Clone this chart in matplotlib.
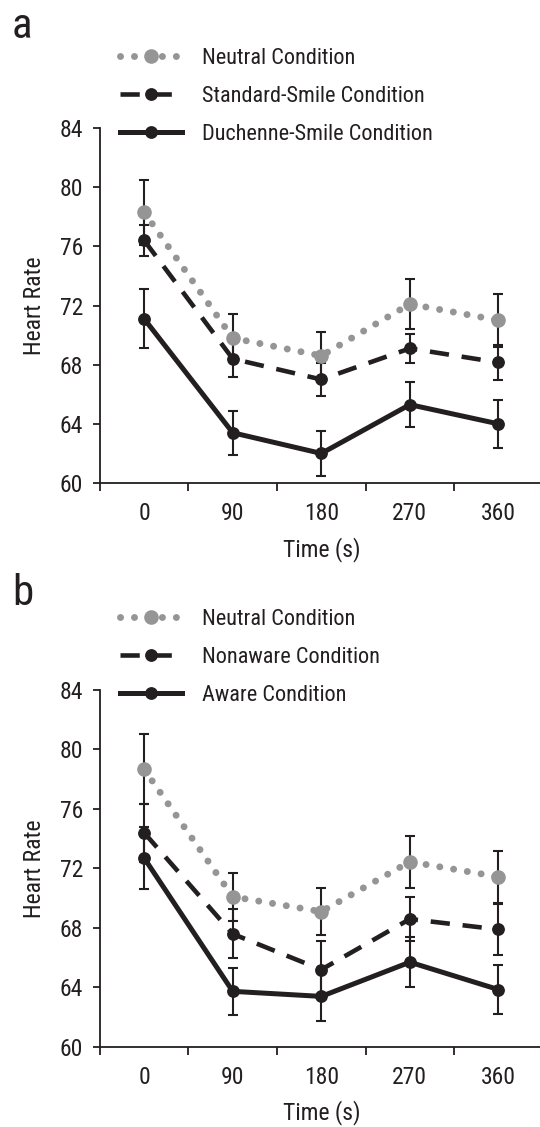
import numpy as np
import matplotlib
matplotlib.use("Agg")
from matplotlib import pyplot as plt
from matplotlib.lines import Line2D

plt.rcParams['font.family'] = ['Roboto Condensed', 'DejaVu Sans']

times = ['0', '90', '180', '270', '360']

# panel a
a_labels = ["Neutral Condition", "Standard-Smile Condition", "Duchenne-Smile Condition"]
a_neutral = [78.3, 69.8, 68.6, 72.1, 71.0]
a_neutral_se = [2.2, 1.6, 1.6, 1.7, 1.8]
a_standard = [76.4, 68.4, 67.0, 69.1, 68.15]
a_standard_se = [1.05, 1.2, 1.1, 1.0, 1.2]
a_duchenne = [71.1, 63.4, 62.0, 65.3, 64.0]
a_duchenne_se = [2.0, 1.5, 1.5, 1.5, 1.6]

# panel b
b_labels = ["Neutral Condition", "Nonaware Condition", "Aware Condition"]
b_neutral = [78.66, 70.1, 69.1, 72.45, 71.44]
b_neutral_se = [2.35, 1.6, 1.6, 1.75, 1.73]
b_nonaware = [74.4, 67.6, 65.2, 68.6, 67.9]
b_nonaware_se = [1.95, 1.65, 1.9, 1.5, 1.7]
b_aware = [72.7, 63.74, 63.4, 65.7, 63.86]
b_aware_se = [2.1, 1.6, 1.65, 1.7, 1.65]

ink = '#231f20'
gray = '#959595'

styles = [
    dict(color=gray, linestyle=(0, (0.01, 2.0)), lw=5.0, dash_capstyle='round',
         marker='o', ms=9.5, mfc=gray, mec=gray),
    dict(color=ink, linestyle=(0, (4.2, 2.8)), lw=3.3, marker='o', ms=8.2, mfc=ink, mec=ink),
    dict(color=ink, linestyle='-', lw=3.6, marker='o', ms=8.2, mfc=ink, mec=ink),
]

fig = plt.figure(figsize=(5.4, 11.27), dpi=100)

def panel(rect, series, errs, labels, letter, letter_y, leg_top):
    ax = fig.add_axes(rect)
    x = np.arange(len(times))
    order = [2, 1, 0]
    for i in order:
        ax.errorbar(x, series[i], yerr=errs[i], fmt='none', ecolor=ink, elinewidth=1.5,
                    capsize=3.5, capthick=1.5, zorder=2)
    for i in order:
        ax.plot(x, series[i], zorder=3 + (2 - i), **styles[i])

    ax.set_xlim(-0.5, 4.5)
    ax.set_ylim(60, 84)
    ax.set_yticks(np.arange(60, 85, 4))
    ax.set_xticks(x)
    ax.set_xticklabels(times)
    ax.set_xticks(np.arange(-0.5, 4.6, 1), minor=True)
    ax.tick_params(axis='x', which='major', length=0, pad=14, labelsize=17, colors=ink)
    ax.tick_params(axis='x', which='minor', length=6, width=1.3, color=ink, direction='out')
    ax.tick_params(axis='y', length=5, width=1.3, color=ink, labelsize=17, labelcolor=ink, pad=7)
    for s in ['top', 'right']:
        ax.spines[s].set_visible(False)
    for s in ['left', 'bottom']:
        ax.spines[s].set_linewidth(1.3)
        ax.spines[s].set_color(ink)
    ax.set_xlabel('Time (s)', fontsize=17, color=ink, labelpad=8)
    ax.set_ylabel('Heart Rate', fontsize=17, color=ink, labelpad=10)

    handles = [Line2D([0], [0], **styles[i]) for i in range(3)]
    fig.legend(handles, labels, loc='upper left', bbox_to_anchor=(0.222, leg_top),
               bbox_transform=fig.transFigure, frameon=False, fontsize=16,
               handlelength=2.8, handletextpad=0.9, labelspacing=0.78,
               borderpad=0, borderaxespad=0, numpoints=1, labelcolor=ink)
    fig.text(0.022, letter_y, letter, fontsize=31, color=ink, va='baseline', ha='left')
    return ax

panel([0.185, 0.5714, 0.82, 0.315],
      [a_neutral, a_standard, a_duchenne], [a_neutral_se, a_standard_se, a_duchenne_se],
      a_labels, 'a', 0.9663, 0.9578)
panel([0.185, 0.071, 0.82, 0.3168],
      [b_neutral, b_nonaware, b_aware], [b_neutral_se, b_nonaware_se, b_aware_se],
      b_labels, 'b', 0.4632, 0.46)

fig.savefig('out.png', dpi=100)
